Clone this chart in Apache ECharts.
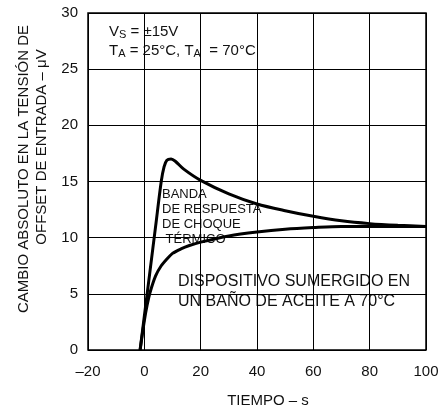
<!DOCTYPE html>
<html><head><meta charset="utf-8">
<script src="https://cdn.jsdelivr.net/npm/echarts@6/dist/echarts.min.js"></script>
<style>html,body{margin:0;padding:0;background:#fff}#c{width:439px;height:414px}</style>
</head><body><div id="c"></div>
<script>
const xTicks = [-20, 0, 20, 40, 60, 80, 100];
const yTicks = [0, 5, 10, 15, 20, 25, 30];
// Upper curve (band upper limit)
const upperX = [-1.5, 0, 2, 4, 6, 7, 8, 9.5, 11, 14, 20, 30, 40, 50, 60, 70, 80, 90, 100];
const upperY = [0, 3, 7, 11, 15, 16.3, 16.9, 17.0, 16.8, 16.1, 15.1, 13.9, 13.0, 12.4, 11.9, 11.5, 11.25, 11.1, 11.0];
// Lower curve (band lower limit)
const lowerX = [-1.5, 0, 1, 2, 4, 6, 8, 10, 13, 16, 20, 30, 40, 50, 60, 70, 80, 100];
const lowerY = [0, 2.6, 4.0, 5.1, 6.6, 7.5, 8.1, 8.6, 9.0, 9.3, 9.6, 10.15, 10.5, 10.75, 10.9, 11.0, 11.0, 11.0];

const FONT = 'Liberation Sans, Arial, sans-serif';
const chart = echarts.init(document.getElementById('c'));
const zip = (xs, ys) => xs.map((x, i) => [x, ys[i]]);
const sub = { s: { fontSize: 11, fontFamily: FONT, fill: '#111', verticalAlign: 'bottom', padding: [7, 0, 0, 0] } };
chart.setOption({
  animation: false,
  grid: { left: 88, right: 13, top: 13, bottom: 64, show: true, borderColor: '#000', borderWidth: 1.5,
    containLabel: false, outerBoundsMode: 'none' },
  xAxis: {
    type: 'value', min: xTicks[0], max: xTicks[xTicks.length - 1], interval: 20,
    axisLine: { show: false }, axisTick: { show: false },
    splitLine: { show: true, lineStyle: { color: '#000', width: 1 } },
    axisLabel: { color: '#111', fontFamily: FONT, fontSize: 15, margin: 14, hideOverlap: false,
      formatter: v => String(v).replace('-', '–') }
  },
  yAxis: {
    type: 'value', min: yTicks[0], max: yTicks[yTicks.length - 1], interval: 5,
    axisLine: { show: false }, axisTick: { show: false },
    splitLine: { show: true, lineStyle: { color: '#000', width: 1 } },
    axisLabel: { color: '#111', fontFamily: FONT, fontSize: 15, margin: 10 }
  },
  series: [
    { type: 'line', data: zip(upperX, upperY), smooth: 0.3, symbol: 'none',
      lineStyle: { color: '#000', width: 3 } },
    { type: 'line', data: zip(lowerX, lowerY), smooth: 0.3, symbol: 'none',
      lineStyle: { color: '#000', width: 3 } }
  ],
  graphic: [
    { type: 'text', left: 109, top: 24, style: {
      text: 'V{s|S} = ±15V', fill: '#111', font: '15px ' + FONT, rich: sub } },
    { type: 'text', left: 109, top: 43, style: {
      text: 'T{s|A} = 25°C, T{s|A}  = 70°C', fill: '#111', font: '15px ' + FONT, rich: sub } },
    { type: 'text', left: 162, top: 187, style: {
      text: 'BANDA\nDE RESPUESTA\nDE CHOQUE\n TÉRMICO', fill: '#111', font: '13px ' + FONT, lineHeight: 15 } },
    { type: 'text', left: 178, top: 272, style: {
      text: 'DISPOSITIVO SUMERGIDO EN\nUN BAÑO DE ACEITE A 70°C', fill: '#111', font: '16px ' + FONT, lineHeight: 20 } },
    { type: 'text', x: 268, y: 401, style: {
      text: 'TIEMPO – s', fill: '#111', font: '15px ' + FONT, align: 'center', verticalAlign: 'middle' } },
    { type: 'text', x: 24, y: 169, rotation: Math.PI / 2, style: {
      text: 'CAMBIO ABSOLUTO EN LA TENSIÓN DE', fill: '#111', font: '15px ' + FONT, align: 'center', verticalAlign: 'middle' } },
    { type: 'text', x: 42, y: 147, rotation: Math.PI / 2, style: {
      text: 'OFFSET DE ENTRADA – μV', fill: '#111', font: '15px ' + FONT, align: 'center', verticalAlign: 'middle' } }
  ]
});
</script></body></html>
